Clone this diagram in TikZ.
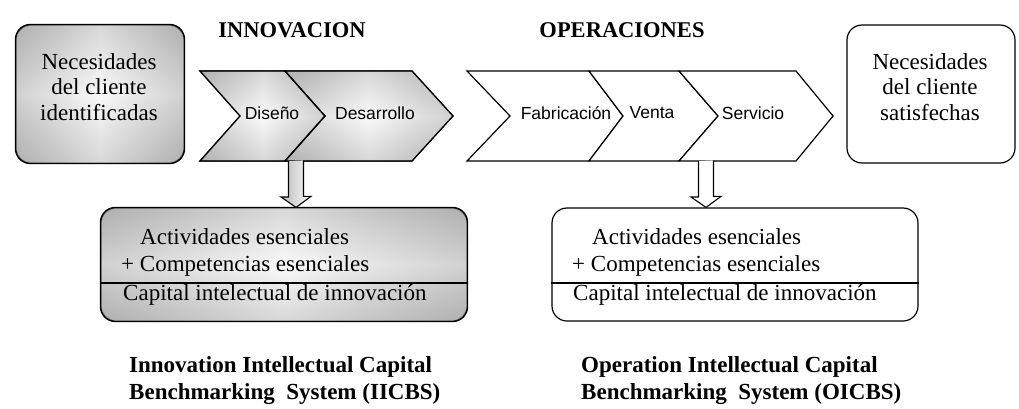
\documentclass[tikz,border=0pt]{standalone}
\usepackage{fontspec}
\setmainfont{Liberation Serif}
\newfontfamily\chevfont{Liberation Sans}
\usetikzlibrary{calc}
\tikzset{
  outline/.style={draw=black, line width=1.2pt},
  roundbox/.style={outline, rounded corners=15pt, inner sep=0pt},
  grayfill/.style={top color=gray!62, bottom color=gray!62, middle color=gray!4,
     postaction={fill opacity=0.55, left color=gray!62, right color=gray!62, middle color=gray!4}},
  chevgray/.style={outline, line join=miter, grayfill},
  chevwhite/.style={outline, line join=miter, fill=white},
  bodytxt/.style={font=\fontsize{23}{25.5}\selectfont, inner sep=0pt, text height=16pt, text depth=5pt},
  boxtxt/.style={font=\fontsize{23}{25.5}\selectfont, inner sep=0pt, align=center},
  chevtxt/.style={font=\chevfont\fontsize{17.5}{20}\selectfont, inner sep=0pt},
  titletxt/.style={font=\bfseries\fontsize{22.5}{26}\selectfont, inner sep=0pt},
  captxt/.style={font=\bfseries\fontsize{23}{27}\selectfont, inner sep=0pt, align=left},
  hollowarrow/.style={draw=black, line width=1.1pt, line join=miter},
}
\begin{document}
\begin{tikzpicture}[x=1pt,y=-1pt]
\useasboundingbox (0,0) rectangle (1019,408);
\fill[white] (0,0) rectangle (1019,408);

% titles
\node[titletxt] (tinn) at (292,30) {INNOVACION};
\node[titletxt] (tope) at (622,30) {OPERACIONES};

% left box
\node[roundbox, grayfill, minimum width=168pt, minimum height=138pt] (lbox) at (100,94) {};
\draw[line width=1.2pt, rounded corners=15pt] (lbox.south west) rectangle (lbox.north east);
\node[boxtxt] (ltxt) at (99,87) {Necesidades\\del cliente\\identificadas};

% right box
\node[roundbox, fill=white, minimum width=168pt, minimum height=138pt] (rbox) at (931,94) {};
\node[boxtxt] (rtxt) at (930,87) {Necesidades\\del cliente\\satisfechas};

% innovation chevrons
\path[chevgray] (200,71) -- (285,71) -- (325,116) -- (285,161) -- (200,161) -- (240,116) -- cycle;
\path[chevgray] (285,71) -- (412,71) -- (453,116) -- (412,161) -- (285,161) -- (325,116) -- cycle;
\path[outline, line join=miter] (200,71) -- (285,71) -- (325,116) -- (285,161) -- (200,161) -- (240,116) -- cycle;
\path[outline, line join=miter] (285,71) -- (412,71) -- (453,116) -- (412,161) -- (285,161) -- (325,116) -- cycle;
\node[chevtxt] (dis) at (272,113) {Diseño};
\node[chevtxt] (des) at (375,113) {Desarrollo};

% operation chevrons
\path[chevwhite] (467,71) -- (589,71) -- (623,116) -- (589,161) -- (467,161) -- (510,116) -- cycle;
\path[chevwhite] (589,71) -- (679,71) -- (718,116) -- (679,161) -- (589,161) -- (623,116) -- cycle;
\path[chevwhite] (679,71) -- (796,71) -- (833,116) -- (796,161) -- (679,161) -- (718,116) -- cycle;
\node[chevtxt] (fab) at (566,113) {Fabricación};
\node[chevtxt] (ven) at (652,113) {Venta};
\node[chevtxt] (ser) at (753,113) {Servicio};

\coordinate (innbot) at (296,161);
\coordinate (opebot) at (706,161);

% bottom boxes
\node[roundbox, grayfill, minimum width=366pt, minimum height=113pt] (innbox) at (284,264.5) {};
\draw[line width=1.2pt, rounded corners=15pt] (innbox.south west) rectangle (innbox.north east);
\node[roundbox, fill=white, minimum width=366pt, minimum height=113pt] (opebox) at (735,264.5) {};
\draw[line width=1.2pt] (innbox.west |- 0,283) -- (innbox.east |- 0,283);
\draw[line width=1.2pt] (opebox.west |- 0,283) -- (opebox.east |- 0,283);

\node[bodytxt, anchor=west] (ia1) at (140,239) {Actividades esenciales};
\node[bodytxt, anchor=west] (ia2) at (121,266) {+ Competencias esenciales};
\node[bodytxt, anchor=west] (ia3) at (123,295) {Capital intelectual de innovación};
\node[bodytxt, anchor=west] (oa1) at (592,239) {Actividades esenciales};
\node[bodytxt, anchor=west] (oa2) at (572,266) {+ Competencias esenciales};
\node[bodytxt, anchor=west] (oa3) at (573,295) {Capital intelectual de innovación};

% hollow block arrows
\draw[hollowarrow, left color=gray!55, right color=gray!3]
  ($(innbot)+(-7.5,0)$) -- ++(0,36) -- ++(-7.5,0) -- (innbot |- innbox.north)
  -- ++(15,-11) -- ++(-7.5,0) -- ++(0,-36);
\draw[hollowarrow, fill=white]
  ($(opebot)+(-7.5,0)$) -- ++(0,36) -- ++(-7.5,0) -- (opebot |- opebox.north)
  -- ++(15,-11) -- ++(-7.5,0) -- ++(0,-36);

% captions
\node[captxt, anchor=west] (cinn) at (129,381) {Innovation Intellectual Capital\\Benchmarking\ \ System (IICBS)};
\node[captxt, anchor=west] (cope) at (581,381) {Operation Intellectual Capital\\Benchmarking\ \ System (OICBS)};
\end{tikzpicture}
\end{document}
